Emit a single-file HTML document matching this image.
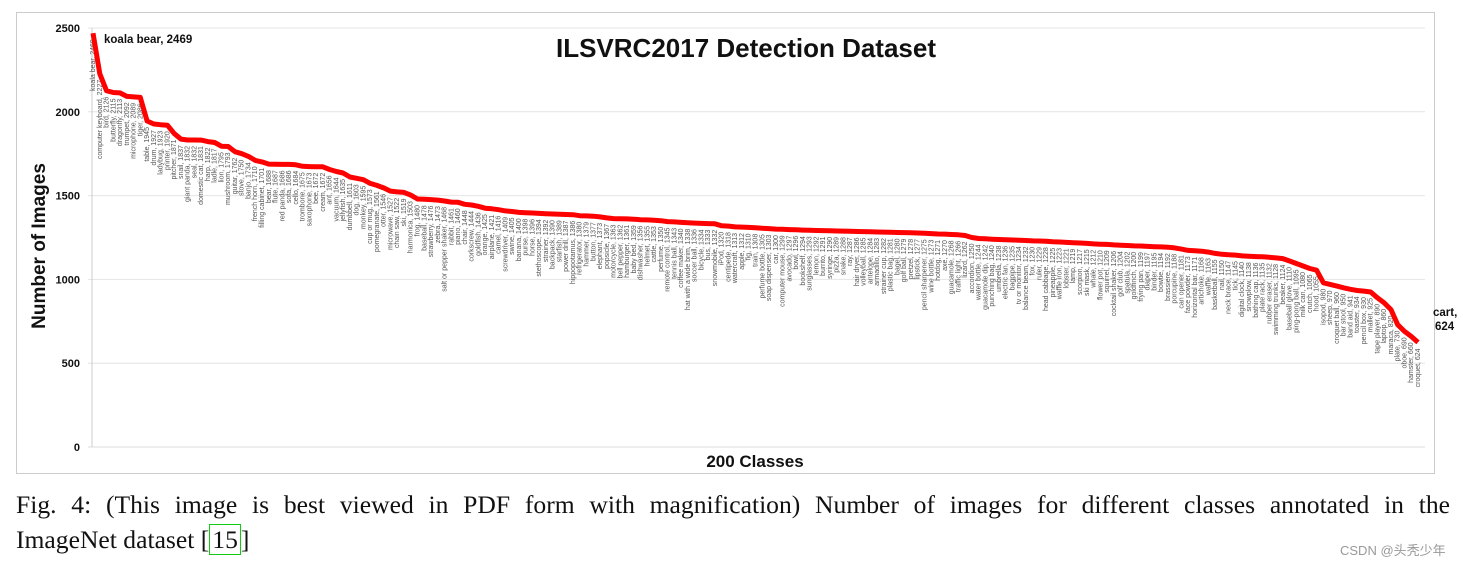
<!DOCTYPE html>
<html><head><meta charset="utf-8"><style>
body{margin:0;background:#fff;width:1463px;height:568px;overflow:hidden;position:relative;font-family:"Liberation Sans",sans-serif}
#cap{position:absolute;left:16px;top:487px;width:1434px;font-family:"Liberation Serif",serif;font-size:25.6px;line-height:35px;color:#111}
#cap .l1{text-align:justify;text-align-last:justify;white-space:nowrap;display:block}
#wm{position:absolute;left:1340px;top:540px;font-size:13px;color:#999;font-family:"Liberation Sans","Noto Sans CJK SC",sans-serif}
.ref{border:1.5px solid #1c1;padding:0 2px}
</style></head><body>
<svg id="chart" width="1463" height="480" style="position:absolute;left:0;top:0" xmlns="http://www.w3.org/2000/svg">
<rect x="16.5" y="12.5" width="1418" height="461" fill="#fff" stroke="#ccc"/>
<g id="grid"></g><g id="labels"></g><g id="line"></g>
<text x="746" y="57" text-anchor="middle" font-size="26" font-weight="bold" fill="#111">ILSVRC2017 Detection Dataset</text>
<text transform="translate(45,246) rotate(-90)" text-anchor="middle" font-size="19" font-weight="bold" fill="#111">Number of Images</text>
<text x="755" y="467" text-anchor="middle" font-size="17" font-weight="bold" fill="#111">200 Classes</text>
<text x="104" y="43" font-size="11.5" font-weight="bold" fill="#111">koala bear, 2469</text>
<text x="1433" y="316" font-size="11.5" font-weight="bold" fill="#111">cart,</text>
<text x="1435" y="330" font-size="11.5" font-weight="bold" fill="#111">624</text>
</svg>
<div id="cap"><span class="l1">Fig. 4: (This image is best viewed in PDF form with magnification) Number of images for different classes annotated in the</span>ImageNet dataset [<span class="ref">15</span>]</div>
<div id="wm">CSDN @头秃少年</div>
<script>
const yTicks=[0,500,1000,1500,2000,2500];
const classNames=["koala bear","computer keyboard","bird","butterfly","dragonfly","trumpet","microphone","tiger","table","drum","ladybug","printer","pitcher","snail","giant panda","seal","domestic cat","harp","ladle","lion","mushroom","guitar","stove","banjo","french horn","filling cabinet","bear","flute","red panda","sofa","cello","trombone","saxophone","bee","cream","ant","vacuum","jellyfish","dumbbell","dog","monkey","cup or mug","pomegranate","otter","microwave","chain saw","ski","harmonica","frog","baseball","strawberry","zebra","salt or pepper shaker","rabbit","piano","chair","corkscrew","goldfish","orange","airplane","camel","screwdriver","swine","banana","purse","horse","stethoscope","strainer","backpack","starfish","power drill","hippopotamus","refrigerator","hammer","button","elephant","popsicle","motorcycle","bell pepper","hamburger","baby bed","dishwasher","helmet","cattle","perfume","remote control","tennis ball","coffee maker","hat with a wide brim","soccer ball","bicycle","bus","snowmobile","iPod","centipede","watercraft","apple","fig","train","perfume bottle","soap dispenser","car","computer mouse","avocado","bowl","bookshelf","sunglasses","lemon","burrito","syringe","pizza","snake","ray","hair dryer","volleyball","antelope","armadillo","strainer cup","plastic bag","bagel","golf ball","pretzel","lipstick","pencil sharpener","wine bottle","hotdog","axe","guacamole","traffic light","lizard","accordion","water bottle","guacamole dip","punching bag","umbrella","electric fan","bagpipe","tv or monitor","balance beam","fox","ruler","head cabbage","pineapple","waffle iron","lobster","lamp","scorpion","ski mask","whale","flower pot","squirrel","cocktail shaker","golf club","spatula","goldfinch","frying pan","diaper","binder","bowtie","brassiere","porcupine","can opener","face powder","horizontal bar","artichoke","waffle","basketball","nail","neck brace","tick","digital clock","snowplow","bathing cap","plate rack","rubber eraser","swimming trunks","beaker","baseball glove","ping-pong ball","milk can","crutch","hood","isopod","sheep","croquet ball","bar stool","band aid","toaster","pencil box","mallet","tape player","laptop","maraca","plate","oboe","hamster","croquet","cart"];
const classCounts=[2469,2227,2126,2115,2113,2092,2089,2086,1945,1927,1923,1920,1871,1837,1832,1832,1831,1822,1817,1795,1793,1762,1750,1734,1710,1701,1688,1687,1686,1686,1684,1675,1673,1672,1672,1656,1644,1635,1611,1603,1595,1573,1561,1546,1527,1522,1519,1503,1480,1478,1476,1473,1468,1461,1460,1448,1444,1436,1425,1421,1416,1409,1405,1400,1398,1396,1394,1392,1390,1389,1387,1386,1380,1379,1377,1373,1367,1363,1362,1361,1359,1356,1355,1353,1350,1345,1343,1340,1338,1336,1334,1333,1332,1320,1318,1313,1312,1310,1308,1305,1303,1300,1299,1297,1296,1294,1293,1292,1291,1290,1289,1288,1287,1286,1285,1284,1283,1282,1281,1280,1279,1278,1277,1275,1273,1271,1270,1268,1266,1262,1250,1244,1242,1240,1238,1236,1235,1234,1232,1230,1229,1228,1225,1223,1221,1219,1217,1215,1212,1210,1209,1206,1204,1202,1200,1199,1197,1195,1194,1192,1188,1181,1173,1171,1168,1163,1155,1150,1147,1145,1140,1138,1136,1135,1132,1128,1124,1110,1095,1080,1065,1055,980,970,960,950,941,934,930,925,890,860,820,730,690,660,624];
const NS="http://www.w3.org/2000/svg";
const y0=447,y1=28,x0=93,x1=1418;
const yS=v=>y0-(v/2500)*(y0-y1);
const xS=i=>x0+i*(x1-x0)/(classCounts.length-1);
const grid=document.getElementById('grid');
yTicks.forEach(t=>{
 const l=document.createElementNS(NS,'line');
 
 
 l.setAttribute('x1',88);l.setAttribute('x2',1425);l.setAttribute('y1',yS(t));l.setAttribute('y2',yS(t));
 l.setAttribute('stroke',t===0?'#ddd':'#e4e4e4');grid.appendChild(l);
 const tx=document.createElementNS(NS,'text');
 
 
 tx.setAttribute('x',80);tx.setAttribute('y',yS(t)+4);tx.setAttribute('text-anchor','end');
 tx.setAttribute('font-size','11');tx.setAttribute('font-weight','bold');tx.setAttribute('fill','#111');
 tx.textContent=t;grid.appendChild(tx);
});
const ax=document.createElementNS(NS,'line');


ax.setAttribute('x1',92);ax.setAttribute('x2',92);ax.setAttribute('y1',28);ax.setAttribute('y2',447);ax.setAttribute('stroke','#ccc');grid.appendChild(ax);
const lab=document.getElementById('labels');
classCounts.forEach((v,i)=>{
 const t=document.createElementNS(NS,'text');
 
 
 const x=xS(i)+2,y=yS(v)+6;
 t.setAttribute('transform','translate('+x+','+y+') rotate(-90)');
 t.setAttribute('text-anchor','end');t.setAttribute('font-size','7');t.setAttribute('fill','#555');
 t.textContent=(classNames[i]||'class')+', '+v;lab.appendChild(t);
});
const p=document.createElementNS(NS,'polyline');


p.setAttribute('points',classCounts.map((v,i)=>xS(i).toFixed(1)+','+yS(v).toFixed(1)).join(' '));
p.setAttribute('fill','none');p.setAttribute('stroke','#f00');p.setAttribute('stroke-width','5');p.setAttribute('stroke-linejoin','round');
document.getElementById('line').appendChild(p);
</script>
</body></html>
